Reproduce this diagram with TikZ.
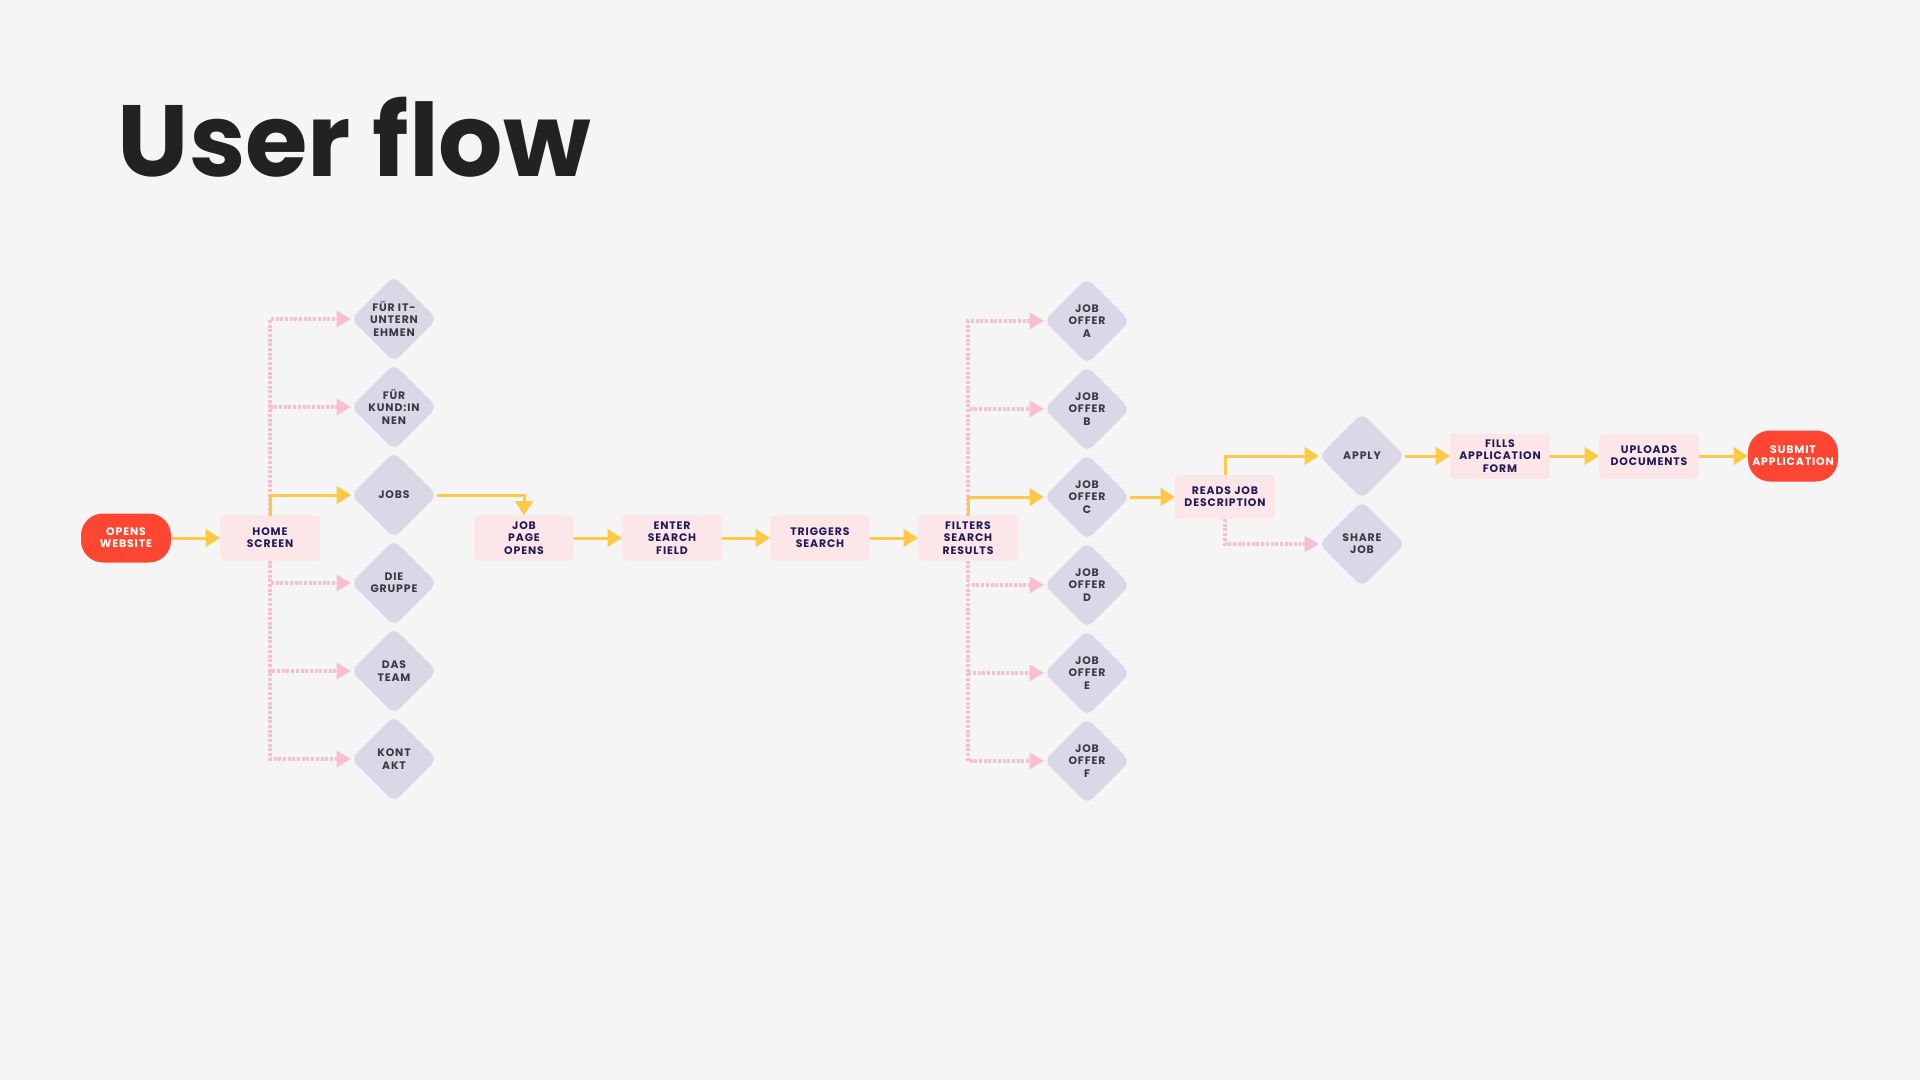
\documentclass[tikz,border=0pt]{standalone}
\usepackage{fontspec}
\setmainfont{Poppins}
\newfontfamily\lblfont[LetterSpace=8]{Poppins}
\usetikzlibrary{arrows.meta,positioning,shapes.geometric}
\definecolor{bgpaper}{HTML}{F5F5F5}
\definecolor{flowred}{HTML}{FF4632}
\definecolor{boxpink}{HTML}{FDE6E7}
\definecolor{dialilac}{HTML}{DAD8E6}
\definecolor{flowyellow}{HTML}{FFC846}
\definecolor{dotpink}{HTML}{F7BFD3}
\definecolor{navytext}{HTML}{1E1A5C}
\definecolor{greytext}{HTML}{3A3A44}
\definecolor{titleblack}{HTML}{222222}

\begin{document}
\begin{tikzpicture}[node distance=4.8mm,
  term/.style={fill=flowred,rounded corners=2.2mm,minimum width=9mm,minimum height=4.9mm,inner sep=0pt,outer sep=0pt,align=center,font=\lblfont\bfseries\fontsize{3.1}{3.5}\selectfont,text=white},
  box/.style={fill=boxpink,rounded corners=0.4mm,minimum width=10mm,minimum height=4.5mm,inner sep=0pt,outer sep=0pt,align=center,font=\lblfont\bfseries\fontsize{3.1}{3.5}\selectfont,text=navytext},
  dia/.style={diamond,aspect=1,fill=dialilac,rounded corners=0.8mm,minimum size=8.6mm,inner sep=0pt,outer sep=0pt},
  dlab/.style={font=\lblfont\bfseries\fontsize{3.1}{3.5}\selectfont,text=greytext,align=center,inner sep=0pt},
  yarr/.style={-{Triangle[length=1.45mm,width=1.75mm]},flowyellow,line width=0.3mm},
  parr/.style={-{Triangle[length=1.45mm,width=1.6mm]},dotpink,line width=0.32mm,dash pattern=on 0.3mm off 0.17mm}]
\fill[bgpaper] (0,0) rectangle (192mm,-108mm);
\useasboundingbox (0,0) rectangle (192mm,-108mm);
\node[anchor=base west,inner sep=0pt,font=\fontsize{28.8}{30}\selectfont\bfseries,text=titleblack] (title) at (11.7mm,-17.7mm) {User flow};
% main row
\node[term] (open) at (12.6mm,-53.8mm) {OPENS\\WEBSITE};
\node[box,right=4.9mm of open] (home) {HOME\\SCREEN};
\node[box,right=15.4mm of home] (jobpage) {JOB\\PAGE\\OPENS};
\node[box,right=of jobpage] (enter) {ENTER\\SEARCH\\FIELD};
\node[box,right=of enter] (trig) {TRIGGERS\\SEARCH};
\node[box,right=of trig] (filt) {FILTERS\\SEARCH\\RESULTS};
% site menu
\node[dia,label={[dlab]center:JOBS}] (jobs) at (39.4mm,-49.5mm) {};
\node[dia,above=0.2mm of jobs,label={[dlab]center:{FÜR\\KUND:IN\\NEN}}] (kund) {};
\node[dia,above=0.2mm of kund,label={[dlab]center:{FÜR IT-\\UNTERN\\EHMEN}}] (itu) {};
\node[dia,below=0.2mm of jobs,label={[dlab]center:{DIE\\GRUPPE}}] (gruppe) {};
\node[dia,below=0.2mm of gruppe,label={[dlab]center:{DAS\\TEAM}}] (team) {};
\node[dia,below=0.2mm of team,label={[dlab]center:{KONT\\AKT}}] (kontakt) {};
% search results
\node[dia,label={[dlab]center:{JOB\\OFFER\\C}}] (offc) at (108.7mm,-49.7mm) {};
\node[dia,above=0.2mm of offc,label={[dlab]center:{JOB\\OFFER\\B}}] (offb) {};
\node[dia,above=0.2mm of offb,label={[dlab]center:{JOB\\OFFER\\A}}] (offa) {};
\node[dia,below=0.2mm of offc,label={[dlab]center:{JOB\\OFFER\\D}}] (offd) {};
\node[dia,below=0.2mm of offd,label={[dlab]center:{JOB\\OFFER\\E}}] (offe) {};
\node[dia,below=0.2mm of offe,label={[dlab]center:{JOB\\OFFER\\F}}] (offf) {};
% application
\node[box,minimum height=4.4mm,right=4.5mm of offc] (reads) {READS JOB\\DESCRIPTION};
\node[dia,label={[dlab]center:APPLY}] (apply) at (136.2mm,-45.6mm) {};
\node[dia,below=0.2mm of apply,label={[dlab]center:{SHARE\\JOB}}] (share) {};
\node[box,right=4.5mm of apply] (fills) {FILLS\\APPLICATION\\FORM};
\node[box,right=4.9mm of fills] (uploads) {UPLOADS\\DOCUMENTS};
\node[term,minimum height=5.1mm,right=4.9mm of uploads] (submit) {SUBMIT\\APPLICATION};
% connectors
\draw[yarr] (open) -- (home);
\draw[parr] (home.north) |- (itu.west);
\draw[parr] (home.north) |- (kund.west);
\draw[yarr] (home.north) |- (jobs.west);
\draw[parr] (home.south) |- (gruppe.west);
\draw[parr] (home.south) |- (team.west);
\draw[parr] (home.south) |- (kontakt.west);
\draw[yarr] (jobs.east) -| (jobpage.north);
\draw[yarr] (jobpage) -- (enter);
\draw[yarr] (enter) -- (trig);
\draw[yarr] (trig) -- (filt);
\draw[parr] (filt.north) |- (offa.west);
\draw[parr] (filt.north) |- (offb.west);
\draw[yarr] (filt.north) |- (offc.west);
\draw[parr] (filt.south) |- (offd.west);
\draw[parr] (filt.south) |- (offe.west);
\draw[parr] (filt.south) |- (offf.west);
\draw[yarr] (offc) -- (reads);
\draw[yarr] (reads.north) |- (apply.west);
\draw[parr] (reads.south) |- (share.west);
\draw[yarr] (apply) -- (fills);
\draw[yarr] (fills) -- (uploads);
\draw[yarr] (uploads) -- (submit);
\end{tikzpicture}
\end{document}
